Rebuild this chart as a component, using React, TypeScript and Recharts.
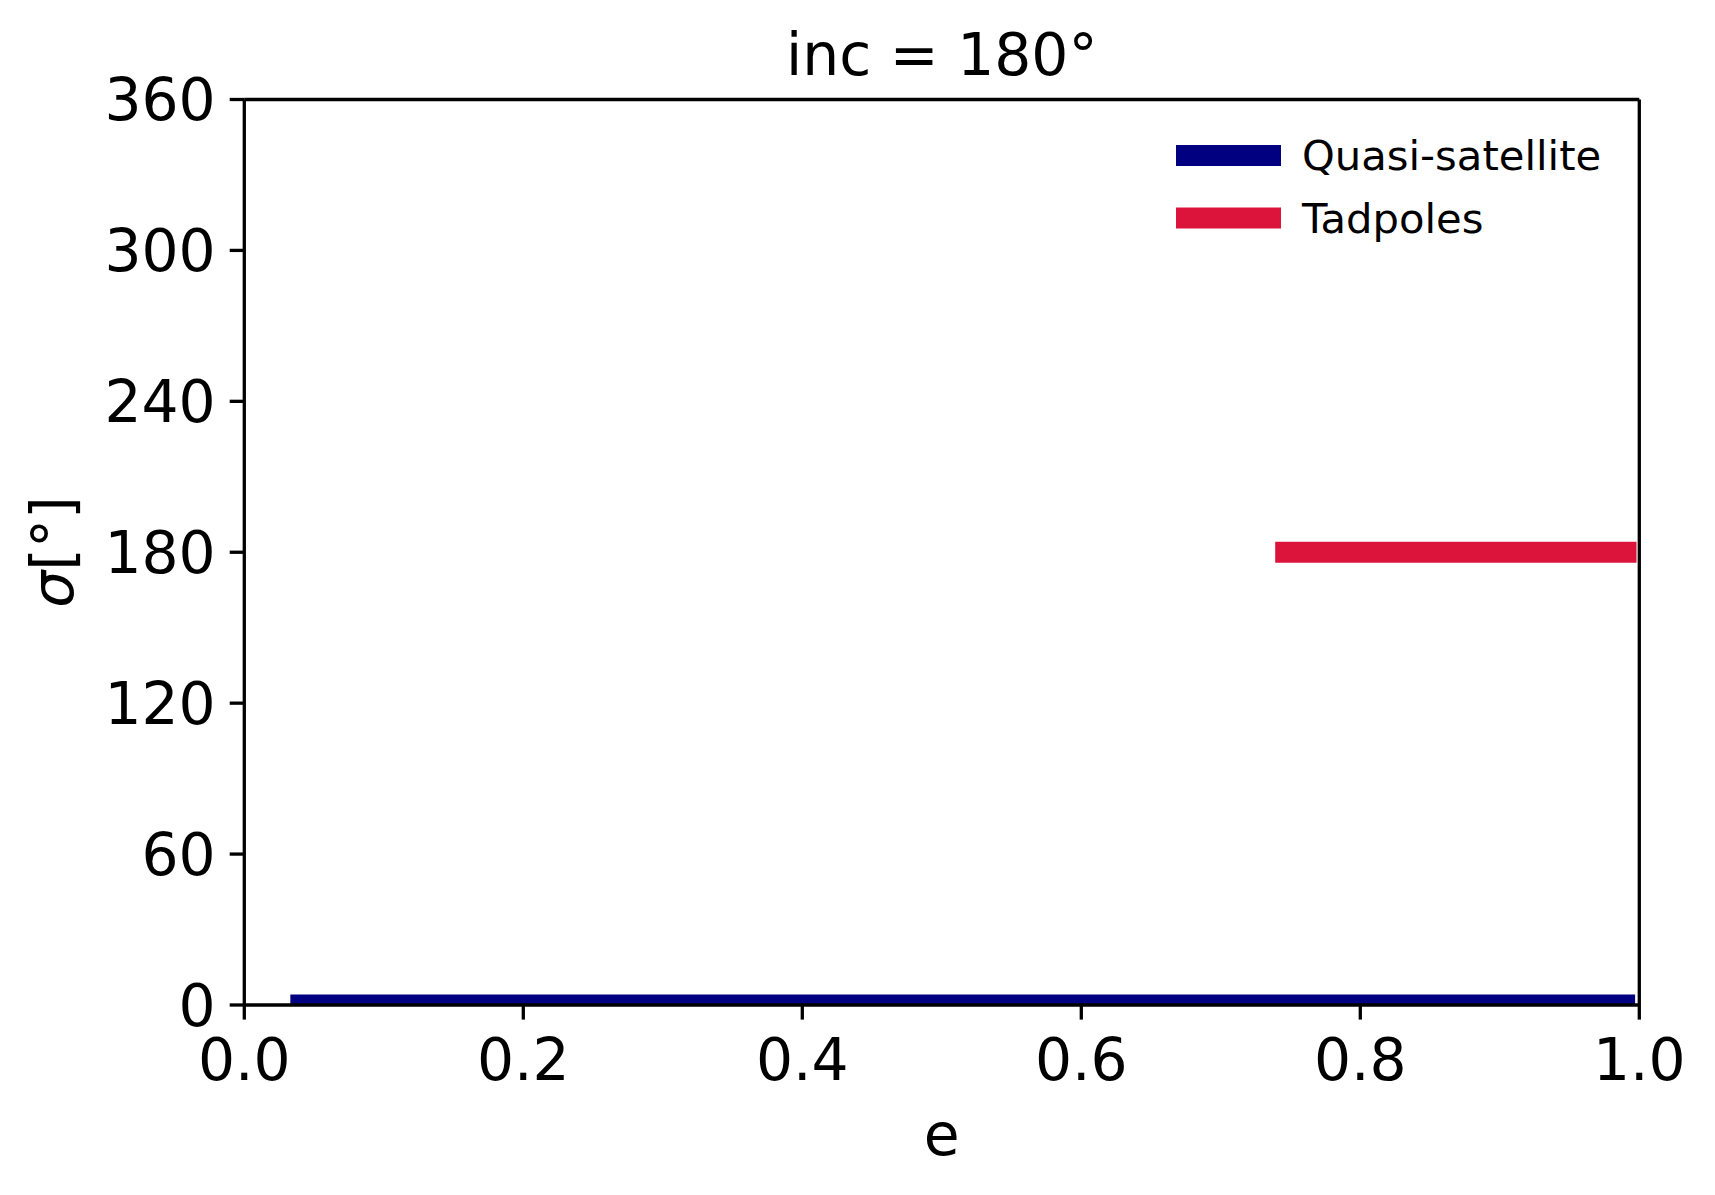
import { Legend, Line, LineChart, ReferenceLine, XAxis, YAxis } from "recharts";

// eccentricity samples where each family was found (segment joins)
const qsE = [0.033, 0.167, 0.282, 0.45, 0.6, 0.75, 0.85, 0.997];
const qsSigma = [0, 0, 0, 0, 0, 0, 0, 0];
const tadE = [0.739, 0.77, 0.796, 0.845, 0.948, 0.998];
const tadSigma = [180, 180, 180, 180, 180, 180];

const E_TICKS = [0, 0.2, 0.4, 0.6, 0.8, 1.0];
const SIGMA_TICKS = [0, 60, 120, 180, 240, 300, 360];

const FONT = "'DejaVu Sans', sans-serif";
const BIG = 58.3;
const SMALL = 41.7;
const SPINE = 3.3;

const qsData = qsE.map((e, i) => ({ e, sigma: qsSigma[i] }));
const tadData = tadE.map((e, i) => ({ e, sigma: tadSigma[i] }));

function renderLegend(props: any) {
  const payload = props.payload ?? [];
  return (
    <svg width={440} height={120} style={{ display: "block", overflow: "visible" }}>
      {payload.map((p: any, i: number) => {
        const cy = 25.5 + i * 62.5;
        return (
          <g key={p.value}>
            <line x1={0} x2={105} y1={cy} y2={cy} stroke={p.color} strokeWidth={20.8} />
            <text x={126} y={cy + 14.7} fontFamily={FONT} fontSize={SMALL} fill="#000">
              {p.value}
            </text>
          </g>
        );
      })}
    </svg>
  );
}

export default function App() {
  return (
    <div style={{ position: "absolute", left: 0, top: 0, width: 1715, height: 1195, background: "#fff" }}>
      <LineChart
        width={1715}
        height={1195}
        margin={{ top: 99.5, right: 75.7, bottom: 90, left: 0 }}
      >
        <XAxis
          dataKey="e"
          type="number"
          domain={[0, 1]}
          ticks={E_TICKS}
          allowDataOverflow
          height={100}
          tickSize={14.6}
          tickMargin={19}
          tickFormatter={(v: number) => v.toFixed(1)}
          tick={{ fill: "#000", fontSize: BIG, fontFamily: FONT }}
          tickLine={{ stroke: "#000", strokeWidth: SPINE }}
          axisLine={{ stroke: "#000", strokeWidth: SPINE }}
        />
        <YAxis
          dataKey="sigma"
          type="number"
          domain={[0, 360]}
          ticks={SIGMA_TICKS}
          allowDataOverflow
          width={244.3}
          tickSize={14.6}
          tickMargin={14}
          tick={{ fill: "#000", fontSize: BIG, fontFamily: FONT }}
          tickLine={{ stroke: "#000", strokeWidth: SPINE }}
          axisLine={{ stroke: "#000", strokeWidth: SPINE }}
        />
        <Line
          data={qsData}
          dataKey="sigma"
          name="Quasi-satellite"
          stroke="#000080"
          strokeWidth={20.8}
          strokeLinecap="butt"
          dot={false}
          activeDot={false}
          isAnimationActive={false}
        />
        <Line
          data={tadData}
          dataKey="sigma"
          name="Tadpoles"
          stroke="#dc143c"
          strokeWidth={20.8}
          strokeLinecap="butt"
          dot={false}
          activeDot={false}
          isAnimationActive={false}
        />
        {/* top and right spines */}
        <ReferenceLine y={360} stroke="#000" strokeWidth={SPINE} />
        <ReferenceLine x={1} stroke="#000" strokeWidth={SPINE} />
        <Legend
          layout="horizontal"
          verticalAlign="middle"
          align="center"
          content={renderLegend}
          wrapperStyle={{ left: 1176, top: 130, width: 440, height: 120 }}
        />
      </LineChart>
      <svg
        width={1715}
        height={1195}
        style={{ position: "absolute", left: 0, top: 0, pointerEvents: "none" }}
      >
        <text x={941.8} y={75} textAnchor="middle" fontFamily={FONT} fontSize={BIG} fill="#000">
          inc = 180°
        </text>
        <text x={941.8} y={1155} textAnchor="middle" fontFamily={FONT} fontSize={BIG} fill="#000">
          e
        </text>
        <text
          x={73}
          y={552}
          textAnchor="middle"
          transform="rotate(-90 73 552)"
          fontFamily={FONT}
          fontSize={BIG}
          fill="#000"
        >
          <tspan fontStyle="italic">σ</tspan>[°]
        </text>
      </svg>
    </div>
  );
}
